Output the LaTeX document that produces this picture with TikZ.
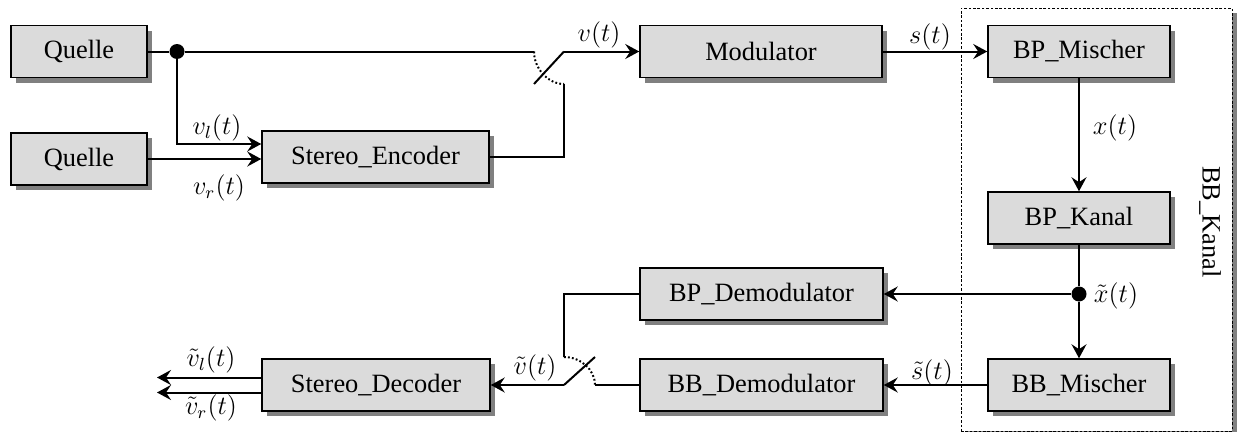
\documentclass[tikz,border=0pt]{standalone}
\usepackage{fontspec}
\setmainfont{Liberation Serif}
\usetikzlibrary{shadows,arrows.meta,calc}
\def\pxu{0.4545pt}
\begin{document}
\begin{tikzpicture}[x=0.4545pt,y=-0.4545pt,
  font=\fontsize{12}{14.5}\selectfont,
  block/.style={draw, line width=1.5*\pxu, fill=black!14, minimum height=52*\pxu, inner sep=0pt,
    drop shadow={shadow xshift=5*\pxu, shadow yshift=-5*\pxu, fill=black!50, opacity=1}},
  frame/.style={draw, line width=0.9*\pxu, dash pattern=on 2.6*\pxu off 1.8*\pxu, fill=white, inner sep=0pt,
    drop shadow={shadow xshift=5*\pxu, shadow yshift=-5*\pxu, fill=black!50, opacity=1}},
  conn/.style={line width=2*\pxu},
  arr/.style={conn, -{Stealth[length=14*\pxu,width=15*\pxu,inset=5*\pxu]}},
  swarc/.style={line width=2*\pxu, dash pattern=on 1.8*\pxu off 2.2*\pxu},
  dot/.style={circle, fill, inner sep=0pt, minimum size=15*\pxu},
  lbl/.style={inner sep=0pt},
]
\useasboundingbox (0,0) rectangle (1238,432);

% frame
\node[frame, minimum width=271*\pxu, minimum height=423*\pxu] (Frame) at (1096.5,219.5) {};
\node[lbl, rotate=-90] (FrameLbl) at (1210,222) {BB\_Kanal};

% blocks
\node[block, minimum width=136*\pxu] (Q1) at (79,51.5) {Quelle};
\node[block, minimum width=136*\pxu] (Q2) at (79,159) {Quelle};
\node[block, minimum width=227*\pxu] (Enc) at (375.5,157) {Stereo\_Encoder};
\node[block, minimum width=242*\pxu] (Mod) at (761,51.5) {Modulator};
\node[block, minimum width=182*\pxu] (BPM) at (1079,51.5) {BP\_Mischer};
\node[block, minimum width=182*\pxu] (BPK) at (1079,218) {BP\_Kanal};
\node[block, minimum width=182*\pxu] (BBM) at (1079,385) {BB\_Mischer};
\node[block, minimum width=243*\pxu] (BPD) at (761.5,294) {BP\_Demodulator};
\node[block, minimum width=243*\pxu] (BBD) at (761.5,385) {BB\_Demodulator};
\node[block, minimum width=228*\pxu] (Dec) at (376,385) {Stereo\_Decoder};

% junctions and switch points
\node[dot] (J1) at (177,51.5) {};
\node[dot] (J2) at (BPK |- BPD) {};
\coordinate (S1a) at (534,51.5);
\coordinate (S1b) at (534,84);
\coordinate (S1c) at (564,51.5);
\coordinate (S1d) at (564,84);
\coordinate (S2a) at (564,357);
\coordinate (S2b) at (595,385);
\coordinate (S2c) at (564,385);
\coordinate (S2d) at (595,357);
\coordinate (EncIn) at ($(Enc.west)+(0,-13)$);
\coordinate (O1) at (157,377.5);
\coordinate (O2) at (157,392.5);

% connectors
\draw[conn] (Q1) -- (J1) -- (S1a);
\draw[arr] (J1) |- (EncIn);
\draw[arr] (Q2.east) -- (Q2.east -| Enc.west);
\draw[conn] (Enc.east) -| (S1d);
\draw[conn] (S1b) -- (S1c);
\draw[swarc] (S1a) .. controls +(0,16.5) and +(-16.5,0) .. (S1d);
\draw[arr] (S1c) -- (Mod.west);
\draw[arr] (Mod) -- (BPM);
\draw[arr] (BPM) -- (BPK);
\draw[conn] (BPK) -- (J2);
\draw[arr] (J2) -- (BBM);
\draw[arr] (J2) -- (BPD);
\draw[arr] (BBM) -- (BBD);
\draw[conn] (BPD.west) -| (S2a);
\draw[conn] (BBD.west) -- (S2b);
\draw[conn] (S2c) -- (S2d);
\draw[swarc] (S2a) .. controls +(16.5,0) and +(0,-15.5) .. (S2b);
\draw[arr] (S2c) -- (Dec.east);
\draw[arr] (Dec.west |- O1) -- (O1);
\draw[arr] (Dec.west |- O2) -- (O2);

% labels
\node[lbl] (Lv) at (599,35) {$v(t)$};
\node[lbl] (Ls) at (930,37) {$s(t)$};
\node[lbl] (Lx) at (1115,128) {$x(t)$};
\node[lbl] (Lxt) at (1116,296) {$\tilde{x}(t)$};
\node[lbl] (Lst) at (932,373) {$\tilde{s}(t)$};
\node[lbl] (Lvt) at (535,368) {$\tilde{v}(t)$};
\node[lbl] (Lvlt) at (211,360) {$\tilde{v}_l(t)$};
\node[lbl] (Lvrt) at (211,408) {$\tilde{v}_r(t)$};
\node[lbl] (Lvl) at (217,128) {$v_l(t)$};
\node[lbl] (Lvr) at (219,188) {$v_r(t)$};
\end{tikzpicture}
\end{document}
